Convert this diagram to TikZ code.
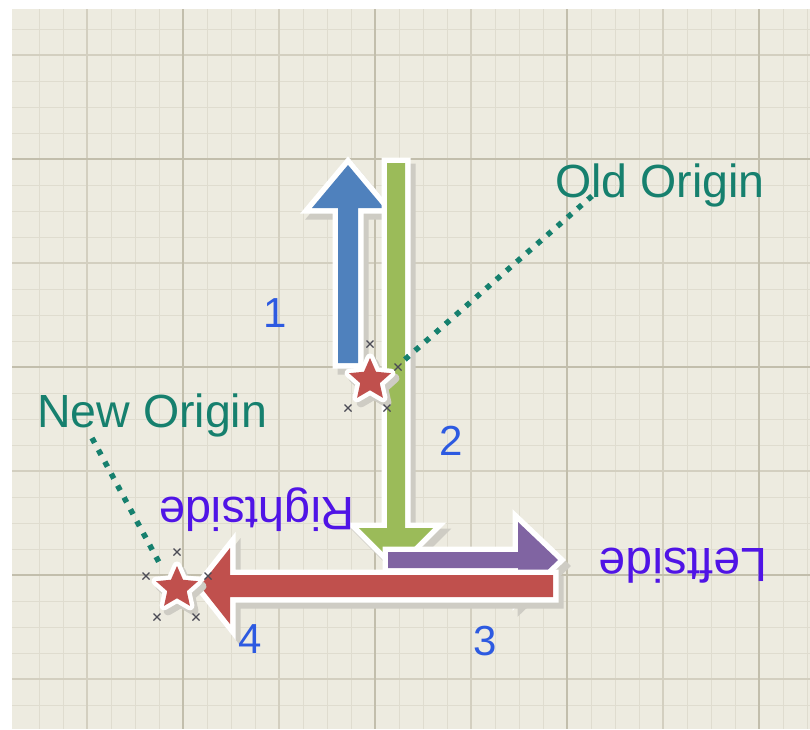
\documentclass[tikz,border=0pt]{standalone}
\usepackage{fontspec}
\setmainfont{Liberation Sans}
\usetikzlibrary{shapes.geometric}
\definecolor{bgc}{RGB}{237,235,224}
\definecolor{gminor}{RGB}{223,220,207}
\definecolor{gmid}{RGB}{211,207,192}
\definecolor{gmajor}{RGB}{194,190,172}
\definecolor{ablue}{RGB}{79,129,189}
\definecolor{agreen}{RGB}{155,187,89}
\definecolor{apurple}{RGB}{128,100,162}
\definecolor{ared}{RGB}{192,80,77}
\definecolor{tealc}{RGB}{22,128,110}
\definecolor{numblue}{RGB}{45,90,225}
\definecolor{sidec}{RGB}{80,20,230}
\definecolor{shadowc}{RGB}{206,204,196}
\definecolor{xmk}{RGB}{75,75,85}
\tikzset{
  arrowshape/.style={fill=#1,
    preaction={fill=shadowc, draw=shadowc, line width=11pt, line join=miter,
      transform canvas={xshift=5pt, yshift=-6pt}},
    preaction={draw=white, line width=11pt, line join=miter}},
  starnode/.style={star, star points=5, star point ratio=2.15, minimum size=44pt,
    inner sep=0pt, fill=ared,
    preaction={fill=shadowc, draw=shadowc, line width=9pt, line join=round,
      transform canvas={xshift=4pt, yshift=-5pt}},
    preaction={draw=white, line width=9pt, line join=round}},
  xmark/.style={draw=xmk, line width=1.1pt},
  dotline/.style={draw=tealc, line width=5.5pt, dash pattern=on 5.5pt off 8pt},
  originlbl/.style={font=\fontsize{46.5}{52}\selectfont, text=tealc, anchor=base west, inner sep=0pt},
  numlbl/.style={font=\fontsize{42}{48}\selectfont, text=numblue, anchor=base, inner sep=0pt},
  sidelbl/.style={font=\fontsize{47}{53}\selectfont, text=sidec, anchor=base, inner sep=0pt, rotate=180}
}
\begin{document}
\begin{tikzpicture}[x=1pt,y=-1pt]
\useasboundingbox (0,0) rectangle (810,729);
\fill[white] (0,0) rectangle (810,729);
\fill[bgc] (12,9) rectangle (810,729);
% grid
\foreach \x in {39,63,...,807} \draw[gminor, line width=1pt] (\x,9) -- (\x,729);
\foreach \y in {29,55,...,705} \draw[gminor, line width=1pt] (12,\y) -- (810,\y);
\foreach \x in {87,279,471,663} \draw[gmid, line width=1.1pt] (\x,9) -- (\x,729);
\foreach \y in {55,263,471,679} \draw[gmid, line width=1.1pt] (12,\y) -- (810,\y);
\foreach \x in {183,375,567,759} \draw[gmajor, line width=1.3pt] (\x,9) -- (\x,729);
\foreach \y in {159,367,575} \draw[gmajor, line width=1.3pt] (12,\y) -- (810,\y);
% arrow 1 (blue, up)
\path[arrowshape=ablue] (338,363) -- (338,208) -- (312,208) -- (348,165) -- (384,208) -- (358,208) -- (358,363) -- cycle;
% arrow 2 (green, down)
\path[arrowshape=agreen] (387,163) -- (405,163) -- (405,528) -- (433,528) -- (396,565) -- (359,528) -- (387,528) -- cycle;
% arrow 3 (purple, right)
\path[arrowshape=apurple] (388,552) -- (518,552) -- (518,522) -- (558,560) -- (518,598) -- (518,568) -- (388,568) -- cycle;
% arrow 4 (red, left)
\path[arrowshape=ared] (553,575) -- (230,575) -- (230,548) -- (200,586) -- (230,624) -- (230,597) -- (553,597) -- cycle;
% labels
\node[originlbl] (oldlbl) at (555,197) {Old Origin};
\node[originlbl] (newlbl) at (37,427) {New Origin};
% leader lines
\coordinate (oldfoot) at (592,196);
\coordinate (oldtip) at (402,362);
\coordinate (newfoot) at (92,438);
\coordinate (newtip) at (161,566);
\draw[dotline] (oldfoot) -- (oldtip);
\draw[dotline] (newfoot) -- (newtip);
% stars
\node[starnode] (oldstar) at (370,380) {};
\node[starnode] (newstar) at (177,588) {};
% selection marks
\foreach \a/\b in {370/344, 398/367, 348/408, 387/408, 177/552, 146/576, 208/576, 157/617, 196/617}
  \draw[xmark] (\a-3.5,\b-3.5) -- (\a+3.5,\b+3.5) (\a-3.5,\b+3.5) -- (\a+3.5,\b-3.5);
% numbers
\node[numlbl] (n1) at (275,327) {1};
\node[numlbl] (n2) at (451,455) {2};
\node[numlbl] (n3) at (485,655) {3};
\node[numlbl] (n4) at (250,653) {4};
% upside-down labels
\node[sidelbl] (rside) at (257,497) {Rightside};
\node[sidelbl, font=\fontsize{48}{54}\selectfont] (lside) at (683,548) {Leftside};
\end{tikzpicture}
\end{document}
